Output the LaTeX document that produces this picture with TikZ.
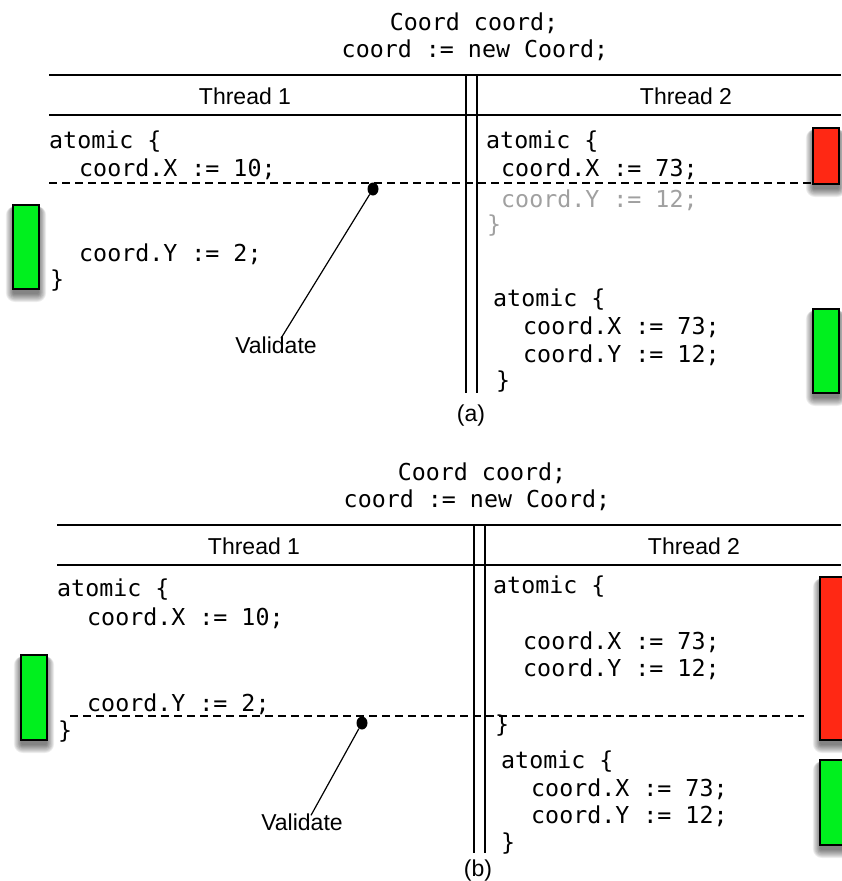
\documentclass[tikz,border=0pt]{standalone}
\usepackage{fontspec}
\usetikzlibrary{shapes.geometric}
\setmainfont{Liberation Sans}
\newfontfamily\codefont{DejaVu Sans Mono}
\definecolor{boxgreen}{RGB}{0,240,30}
\definecolor{boxred}{RGB}{255,40,20}
\definecolor{graytext}{RGB}{160,160,160}
\newcommand\myshadow[4]{%
  \foreach \i in {1,...,9}{%
    \fill[black,opacity=0.07,rounded corners=\i pt]
      ({#1-\i*0.9+1},{#2+3-\i*0.2}) rectangle ({#3+\i*0.9-1},{#4+4+\i*1.0});
  }%
}
\begin{document}
\begin{tikzpicture}[x=1pt,y=-1pt,
  code/.style={font=\codefont\fontsize{23.3}{28}\selectfont,anchor=west,inner sep=0pt,text height=17pt,text depth=0pt},
  title/.style={font=\codefont\fontsize{23.3}{28}\selectfont,inner sep=0pt,text height=17pt,text depth=0pt},
  head/.style={font=\fontsize{23}{27}\selectfont,inner sep=0pt,text height=17pt,text depth=0pt},
  rule/.style={line width=1.5pt},
  vrule/.style={line width=1.3pt},
  dashline/.style={line width=1.7pt,dash pattern=on 8pt off 5pt},
  grayed/.style={text=graytext},
  blk/.style={draw=black,line width=1.4pt},
  dotnode/.style={ellipse,fill=black,inner sep=0pt,minimum width=11pt,minimum height=13pt},
  plain/.style={line width=1.2pt}]
\useasboundingbox (0,0) rectangle (841,881);

% ---------------- panel (a) ----------------
\node[title] (ta1) at (474,22) {Coord coord;};
\node[title] (ta2) at (475,49) {coord := new Coord;};
\coordinate (aTL) at (49,75);  \coordinate (aTR) at (841,75);
\coordinate (aHL) at (49,115); \coordinate (aHR) at (841,115);
\draw[rule] (aTL) -- (aTR);
\draw[rule] (aHL) -- (aHR);
\coordinate (av1t) at (466,75); \coordinate (av1b) at (466,393);
\coordinate (av2t) at (477,75); \coordinate (av2b) at (477,393);
\draw[vrule] (av1t) -- (av1b);
\draw[vrule] (av2t) -- (av2b);
\node[head] (ha1) at (245,96) {Thread 1};
\node[head] (ha2) at (686,96) {Thread 2};

\node[code] (aL1) at (49,140) {atomic \{};
\node[code] (aL2) at (79,168) {coord.X := 10;};
\node[code] (aL3) at (79,253) {coord.Y := 2;};
\node[code] (aL4) at (50,279) {\}};

\node[code] (aR1) at (486,140) {atomic \{};
\node[code] (aR2) at (501,168) {coord.X := 73;};
\node[code,grayed] (aR3) at (501,199) {coord.Y := 12;};
\node[code,grayed] (aR4) at (487,224) {\}};
\node[code] (aR5) at (493,298) {atomic \{};
\node[code] (aR6) at (523,326) {coord.X := 73;};
\node[code] (aR7) at (523,354) {coord.Y := 12;};
\node[code] (aR8) at (496,380) {\}};

\coordinate (adL) at (49,183); \coordinate (adR) at (813,183);
\draw[dashline] (adL) -- (adR);
\node[dotnode] (dotA) at (373,189) {};
\node[head] (valA) at (276,345) {Validate};
\draw[plain] (dotA) -- ([xshift=5pt,yshift=-2pt]valA.north);

\myshadow{13}{205}{39}{289}
\myshadow{813}{128}{839}{184}
\myshadow{813}{309}{839}{393}
\draw[blk,fill=boxgreen] (13,205) rectangle (39,289);
\draw[blk,fill=boxred] (813,128) rectangle (839,184);
\draw[blk,fill=boxgreen] (813,309) rectangle (839,393);

\node[head] (capA) at (471,413) {(a)};

% ---------------- panel (b) ----------------
\node[title] (tb1) at (482,472) {Coord coord;};
\node[title] (tb2) at (477,499) {coord := new Coord;};
\coordinate (bTL) at (57,525);  \coordinate (bTR) at (841,525);
\coordinate (bHL) at (57,565);  \coordinate (bHR) at (841,565);
\draw[rule] (bTL) -- (bTR);
\draw[rule] (bHL) -- (bHR);
\coordinate (bv1t) at (474,525); \coordinate (bv1b) at (474,853);
\coordinate (bv2t) at (485,525); \coordinate (bv2b) at (485,853);
\draw[vrule] (bv1t) -- (bv1b);
\draw[vrule] (bv2t) -- (bv2b);
\node[head] (hb1) at (254,546) {Thread 1};
\node[head] (hb2) at (694,546) {Thread 2};

\node[code] (bL1) at (57,588) {atomic \{};
\node[code] (bL2) at (87,617) {coord.X := 10;};
\node[code] (bL3) at (87,703) {coord.Y := 2;};
\node[code] (bL4) at (58,730) {\}};

\node[code] (bR1) at (493,585) {atomic \{};
\node[code] (bR2) at (523,641) {coord.X := 73;};
\node[code] (bR3) at (523,668) {coord.Y := 12;};
\node[code] (bR4) at (495,724) {\}};
\node[code] (bR5) at (501,760) {atomic \{};
\node[code] (bR6) at (531,788) {coord.X := 73;};
\node[code] (bR7) at (531,815) {coord.Y := 12;};
\node[code] (bR8) at (501,842) {\}};

\coordinate (bdL) at (70,716); \coordinate (bdR) at (804,716);
\draw[dashline] (bdL) -- (bdR);
\node[dotnode] (dotB) at (362,723) {};
\node[head] (valB) at (302,822) {Validate};
\draw[plain] (dotB) -- ([xshift=9pt,yshift=-2pt]valB.north);

\myshadow{21}{655}{47}{740}
\myshadow{820}{577}{848}{740}
\myshadow{820}{760}{848}{845}
\draw[blk,fill=boxgreen] (21,655) rectangle (47,740);
\draw[blk,fill=boxred] (820,577) rectangle (848,740);
\draw[blk,fill=boxgreen] (820,760) rectangle (848,845);

\node[head] (capB) at (478,868) {(b)};
\end{tikzpicture}
\end{document}
